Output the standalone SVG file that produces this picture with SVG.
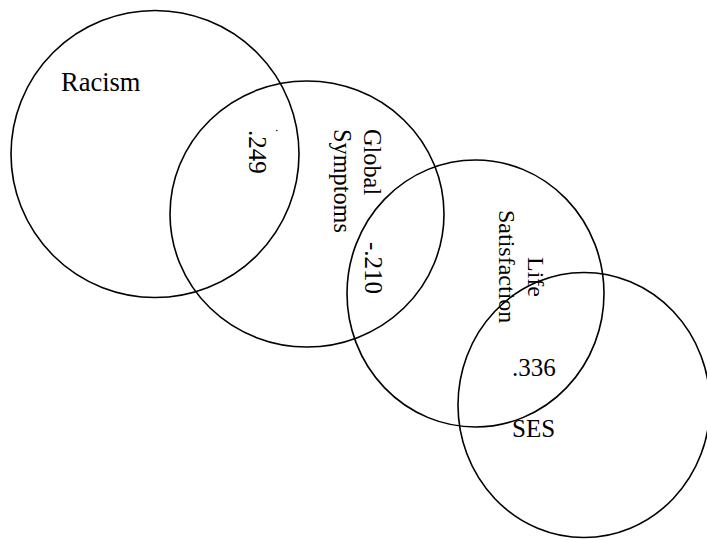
<svg xmlns="http://www.w3.org/2000/svg" width="707" height="540" viewBox="0 0 707 540">
<style>
.c{fill:none;stroke:#000;stroke-width:1.6}
.t{font-family:"Liberation Serif","Times New Roman",serif;font-size:25px;fill:#000}
.r{font-size:24.3px}
</style>
<rect width="707" height="540" fill="#fff"/>
<g id="racism">
<ellipse class="c" cx="155" cy="154" rx="144" ry="143.5"/>
<text class="t" style="font-size:26.5px" x="61" y="91">Racism</text>
</g>
<g id="global-symptoms">
<ellipse class="c" cx="307" cy="214" rx="137" ry="133"/>
<text class="t r" transform="translate(364,129) rotate(90)">Global</text>
<text class="t r" transform="translate(334,129) rotate(90)">Symptoms</text>
</g>
<g id="life-satisfaction">
<ellipse class="c" cx="475.5" cy="293.5" rx="128.5" ry="133.5"/>
<text class="t" style="font-size:24px" transform="translate(528,257) rotate(90)">Life</text>
<text class="t" style="font-size:24px" transform="translate(499,210) rotate(90)">Satisfaction</text>
</g>
<g id="ses">
<ellipse class="c" cx="584" cy="405" rx="126" ry="132.5"/>
<text class="t" x="512" y="437">SES</text>
</g>
<g id="connectors">
<text class="t" transform="translate(249,130) rotate(90)">.249</text>
<text class="t" style="font-size:12px" transform="translate(276,129) rotate(90)">.</text>
<text class="t" transform="translate(365,242) rotate(90)">-.210</text>
<text class="t" x="512" y="376">.336</text>
</g>
</svg>
